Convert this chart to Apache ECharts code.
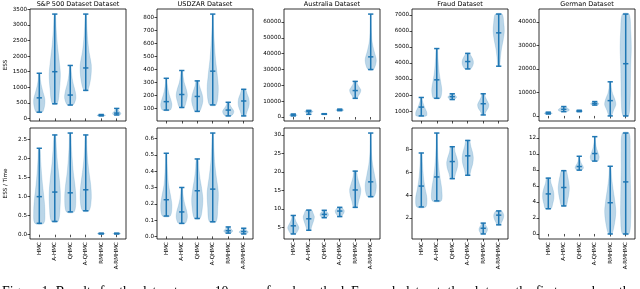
<!DOCTYPE html>
<html><head><meta charset="utf-8">
<script src="https://cdn.jsdelivr.net/npm/echarts@6/dist/echarts.min.js"></script>
<style>html,body{margin:0;padding:0;background:#fff}#c{width:640px;height:289px}</style>
</head><body><div id="c"></div>
<script>
const methods = ['HMC','A-HMC','QHMC','A-QHMC','RMHMC','A-RMHMC'];
const titles = ['S&P 500 Dataset Dataset','USDZAR Dataset','Australia Dataset','Fraud Dataset','German Dataset'];

// [min, median, max] per method
const essSP  = [[200,660,1450],[470,1500,3350],[430,750,1700],[900,1620,3350],[80,100,125],[110,170,320]];
const essUSD = [[85,150,330],[105,205,390],[75,190,310],[125,385,825],[40,85,145],[40,155,245]];
const essAUS = [[700,1300,1900],[1700,3400,4200],[1700,1900,2100],[4000,4500,5000],[11800,16700,22500],[30000,38000,65000]];
const essFRA = [[700,1250,1850],[1800,2950,4900],[1720,1900,2080],[3630,4090,4600],[760,1460,2080],[3800,5880,7050]];
const essGER = [[800,1200,1600],[1800,2800,3980],[1800,2100,2400],[4600,5300,6100],[0,6500,14500],[0,22200,43300]];
const estSP  = [[0.30,1.00,2.27],[0.35,1.12,2.62],[0.60,1.10,2.67],[0.63,1.18,2.62],[0.02,0.03,0.04],[0.02,0.03,0.04]];
const estUSD = [[0.125,0.225,0.51],[0.08,0.15,0.30],[0.11,0.28,0.475],[0.09,0.29,0.634],[0.02,0.035,0.058],[0.015,0.03,0.05]];
const estAUS = [[3.2,5.4,8.2],[4.2,7.3,9.65],[7.6,8.5,9.6],[7.9,9.4,10.4],[10.4,15.1,20.2],[13.3,17.3,30.5]];
const estFRA = [[2.97,4.8,7.7],[3.5,5.6,9.45],[5.45,6.95,8.25],[5.75,7.45,8.8],[0.6,1.1,1.55],[1.4,2.25,2.62]];
const estGER = [[3.15,5.0,6.97],[3.5,5.8,7.9],[7.97,8.42,9.7],[9.1,10.04,12.15],[0,3.9,8.45],[0,6.5,12.6]];

// relative violin widths at 7 evenly spaced levels from min to max
const shpEssSP  = [[0.55,0.95,1.0,0.7,0.4,0.2,0.1],[0.45,0.85,1.0,0.75,0.45,0.25,0.1],[0.5,1.0,0.9,0.6,0.35,0.2,0.1],[0.35,0.9,1.0,0.6,0.35,0.2,0.08],[0.3,0.6,0.75,0.75,0.6,0.4,0.2],[0.5,0.75,0.7,0.5,0.35,0.2,0.1]];
const shpEssUSD = [[0.7,1.0,0.8,0.5,0.3,0.15,0.08],[0.4,0.8,1.0,0.8,0.45,0.25,0.1],[0.4,0.8,1.0,0.95,0.7,0.4,0.2],[0.6,1.0,0.8,0.5,0.3,0.15,0.05],[0.5,0.9,1.0,0.8,0.5,0.3,0.15],[0.3,0.6,0.9,1.0,0.9,0.6,0.3]];
const shpEssAUS = [[0.3,0.55,0.7,0.7,0.55,0.4,0.2],[0.15,0.25,0.4,0.6,0.75,0.65,0.4],[0.2,0.45,0.6,0.6,0.45,0.3,0.15],[0.3,0.55,0.7,0.7,0.55,0.4,0.2],[0.3,0.6,0.9,1.0,0.7,0.4,0.2],[0.5,1.0,0.6,0.25,0.12,0.06,0.03]];
const shpEssFRA = [[0.9,1.0,0.8,0.55,0.35,0.2,0.1],[0.6,0.9,0.7,0.45,0.3,0.2,0.1],[0.3,0.6,0.75,0.75,0.6,0.4,0.2],[0.5,0.85,1,1,0.85,0.6,0.3],[0.2,0.5,0.9,1.0,0.7,0.4,0.2],[0.15,0.3,0.5,0.8,1.0,0.9,0.6]];
const shpEssGER = [[0.3,0.55,0.7,0.7,0.55,0.4,0.2],[0.5,0.9,1.0,0.9,0.7,0.5,0.3],[0.2,0.45,0.6,0.6,0.45,0.3,0.15],[0.4,0.65,0.75,0.7,0.55,0.4,0.2],[0.2,0.6,1.0,0.8,0.4,0.2,0.1],[0.5,0.8,0.85,0.9,1.0,0.9,0.6]];
const shpEstSP  = [[0.8,1.0,0.85,0.6,0.4,0.25,0.12],[0.6,0.95,1.0,0.8,0.5,0.3,0.12],[0.7,1.0,0.85,0.55,0.35,0.2,0.1],[0.6,1.0,0.9,0.6,0.35,0.2,0.1],[0.3,0.55,0.7,0.7,0.55,0.4,0.2],[0.3,0.55,0.7,0.7,0.55,0.4,0.2]];
const shpEstUSD = [[0.7,1.0,0.75,0.4,0.25,0.15,0.08],[0.6,1.0,0.9,0.6,0.35,0.2,0.1],[0.5,0.9,1.0,0.8,0.5,0.3,0.15],[0.6,0.9,1.0,0.65,0.35,0.2,0.08],[0.35,0.7,0.8,0.7,0.5,0.35,0.25],[0.35,0.7,0.8,0.7,0.5,0.35,0.25]];
const shpEstAUS = [[0.4,0.8,1.0,0.8,0.5,0.3,0.15],[0.3,0.5,0.7,0.9,1.0,0.8,0.5],[0.35,0.6,0.75,0.75,0.6,0.4,0.2],[0.3,0.5,0.7,0.8,0.8,0.6,0.35],[0.3,0.6,0.9,1.0,0.7,0.4,0.2],[0.6,1.0,0.7,0.35,0.15,0.07,0.03]];
const shpEstFRA = [[0.8,1.0,0.7,0.45,0.3,0.2,0.1],[0.8,0.9,0.6,0.35,0.2,0.12,0.06],[0.3,0.6,0.9,1.0,0.8,0.5,0.3],[0.3,0.6,0.9,1.0,0.85,0.55,0.3],[0.35,0.6,0.75,0.75,0.6,0.4,0.2],[0.3,0.5,0.7,0.85,0.9,0.8,0.5]];
const shpEstGER = [[0.5,0.8,1.0,1.0,0.8,0.5,0.3],[0.4,0.7,0.9,1.0,0.9,0.7,0.4],[0.45,0.75,0.6,0.35,0.2,0.1,0.05],[0.55,0.8,0.6,0.35,0.2,0.1,0.05],[0.3,0.8,1.0,0.8,0.5,0.25,0.1],[0.6,0.9,0.9,0.85,0.8,0.8,0.6]];

// tick labels
const tkEssSP  = ['0','500','1000','1500','2000','2500','3000','3500'];
const tkEssUSD = ['100','200','300','400','500','600','700','800'];
const tkEssAUS = ['0','10000','20000','30000','40000','50000','60000'];
const tkEssFRA = ['1000','2000','3000','4000','5000','6000','7000'];
const tkEssGER = ['0','10000','20000','30000','40000'];
const tkEstSP  = ['0.0','0.5','1.0','1.5','2.0','2.5'];
const tkEstUSD = ['0.0','0.1','0.2','0.3','0.4','0.5','0.6'];
const tkEstAUS = ['5','10','15','20','25','30'];
const tkEstFRA = ['2','4','6','8'];
const tkEstGER = ['0','2','4','6','8','10','12'];

const panels = [
  [essSP, shpEssSP, tkEssSP], [essUSD, shpEssUSD, tkEssUSD], [essAUS, shpEssAUS, tkEssAUS], [essFRA, shpEssFRA, tkEssFRA], [essGER, shpEssGER, tkEssGER],
  [estSP, shpEstSP, tkEstSP], [estUSD, shpEstUSD, tkEstUSD], [estAUS, shpEstAUS, tkEstAUS], [estFRA, shpEstFRA, tkEstFRA], [estGER, shpEstGER, tkEstGER]
];

const lefts = [30, 157, 284, 412, 539];
const W = 96;
const rowTop = [9, 128], rowH = [112, 111];
const BLUE = '#1f77b4';
const FONT = 'DejaVu Sans';
const HALF = 0.36, CAP = 0.17;

function renderViolin(params, api) {
  const pos = api.value(0), lo = api.value(1), md = api.value(2), hi = api.value(3);
  const right = [], left = [];
  for (let k = 0; k < 7; k++) {
    const p = api.value(4 + k);
    const v = lo + (hi - lo) * k / 6;
    right.push(api.coord([pos + HALF * p, v]));
    left.push(api.coord([pos - HALF * p, v]));
  }
  const pts = right.concat(left.reverse());
  const c = (v, dx) => api.coord([pos + dx, v]);
  const line = (a, b) => ({type: 'line', shape: {x1: a[0], y1: a[1], x2: b[0], y2: b[1]}, style: {stroke: BLUE, lineWidth: 1.5}});
  return {type: 'group', children: [
    {type: 'polygon', shape: {points: pts, smooth: 0.3}, style: {fill: 'rgba(31,119,180,0.3)', stroke: 'rgba(31,119,180,0.2)', lineWidth: 0.8}},
    line(c(lo, 0), c(hi, 0)),
    line(c(lo, -CAP), c(lo, CAP)),
    line(c(md, -CAP), c(md, CAP)),
    line(c(hi, -CAP), c(hi, CAP))
  ]};
}

const grids = [], xAxes = [], yAxes = [], series = [], graphics = [];
panels.forEach((pn, i) => {
  const row = i < 5 ? 0 : 1, col = i % 5;
  const [stats, shapes, ticks] = pn;
  const tickVals = ticks.map(parseFloat);
  let lo = Infinity, hi = -Infinity;
  stats.forEach(s => { lo = Math.min(lo, s[0]); hi = Math.max(hi, s[2]); });
  const m = (hi - lo) * 0.05;
  grids.push({left: lefts[col], top: rowTop[row], width: W, height: rowH[row], show: true, borderColor: '#000', borderWidth: 0.8, backgroundColor: '#fff'});
  xAxes.push({type: 'value', gridIndex: i, min: 0.4, max: 6.6,
    splitLine: {show: false}, axisLine: {show: false},
    axisTick: {show: true, customValues: [1,2,3,4,5,6], length: 2.5, lineStyle: {color: '#000', width: 0.7}},
    axisLabel: {show: row === 1, customValues: [1,2,3,4,5,6], rotate: 90, margin: 3, fontSize: 5.6, fontFamily: FONT, color: '#000',
      formatter: v => methods[Math.round(v) - 1] || ''}
  });
  yAxes.push({type: 'value', gridIndex: i, min: lo - m, max: hi + m,
    name: i === 0 ? 'ESS' : (i === 5 ? 'ESS / Time' : ''), nameLocation: 'middle', nameGap: 21, nameRotate: 90,
    nameTextStyle: {fontSize: 5.6, fontFamily: FONT, color: '#000'},
    splitLine: {show: false}, axisLine: {show: false},
    axisTick: {show: true, customValues: tickVals, length: 2.5, lineStyle: {color: '#000', width: 0.7}},
    axisLabel: {customValues: tickVals, margin: 3, fontSize: 5.6, fontFamily: FONT, color: '#000',
      formatter: v => { const j = tickVals.findIndex(t => Math.abs(t - v) < 1e-9); return j >= 0 ? ticks[j] : ''; }}
  });
  series.push({type: 'custom', xAxisIndex: i, yAxisIndex: i, renderItem: renderViolin, clip: false,
    encode: {x: 0, y: [1, 2, 3]},
    data: stats.map((s, k) => [k + 1, s[0], s[1], s[2]].concat(shapes[k]))
  });
  if (row === 0) {
    graphics.push({type: 'text', x: lefts[col] + W / 2, y: 1,
      style: {text: titles[col], font: '6.5px ' + FONT, fill: '#000', align: 'center', verticalAlign: 'top'}});
  }
});
graphics.push({type: 'text', x: 2, y: 285,
  style: {text: 'Figure 1: Results for the datasets over 10 runs of each method. For each dataset, the plots on the first row show the', font: '13.8px "Liberation Serif"', fill: '#000', verticalAlign: 'top'}});

const chart = echarts.init(document.getElementById('c'), null, {renderer: 'canvas'});
chart.setOption({
  animation: false,
  backgroundColor: '#fff',
  grid: grids, xAxis: xAxes, yAxis: yAxes, series: series, graphic: graphics
});
</script>
</body></html>
